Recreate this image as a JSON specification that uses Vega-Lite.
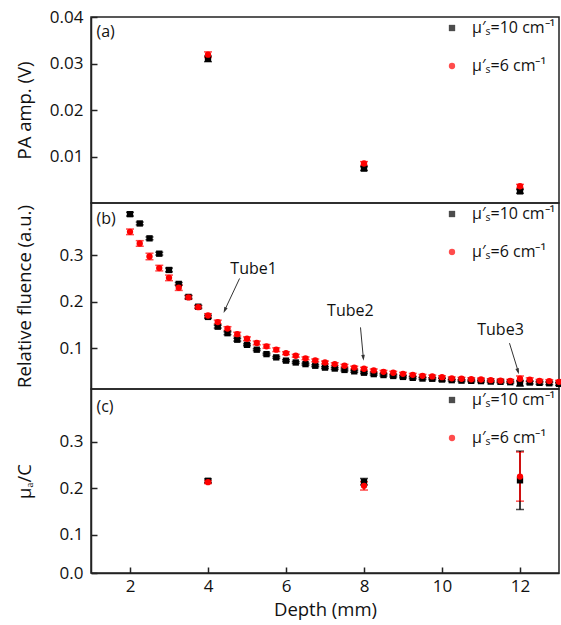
{
  "$schema": "https://vega.github.io/schema/vega-lite/v6.json",
  "padding": {"left": 14, "top": 7, "right": 0, "bottom": 0},
  "spacing": 0,
  "bounds": "flush",
  "config": {
    "font": "Open Sans",
    "view": {"stroke": "#222", "strokeWidth": 1.5},
    "axis": {"labelFont": "Open Sans", "labelFontSize": 17, "titleFont": "Open Sans", "titleFontSize": 18.5, "titleFontWeight": "normal", "labelColor": "#111", "titleColor": "#111", "grid": false, "domainColor": "#222", "domainWidth": 1.5, "tickColor": "#222", "tickWidth": 1.5, "tickSize": -6, "labelPadding": 14, "labelFlush": false},
    "legend": {"orient": "top-right", "offset": 3, "labelFont": "Open Sans", "labelFontSize": 16, "labelColor": "#111", "symbolSize": 40, "rowPadding": 22, "labelOffset": 12, "padding": 0, "symbolStrokeWidth": 0},
    "text": {"font": "Open Sans", "fontSize": 16, "color": "#111"}
  },
  "datasets": {
    "pa": [
      {"depth": 4, "series": "μ′ₛ=10 cm⁻¹", "value": 0.031, "err": 0.0006},
      {"depth": 8, "series": "μ′ₛ=10 cm⁻¹", "value": 0.0074, "err": 0.0004},
      {"depth": 12, "series": "μ′ₛ=10 cm⁻¹", "value": 0.0025, "err": 0.0004},
      {"depth": 4, "series": "μ′ₛ=6 cm⁻¹", "value": 0.0319, "err": 0.0006},
      {"depth": 8, "series": "μ′ₛ=6 cm⁻¹", "value": 0.0085, "err": 0.0004},
      {"depth": 12, "series": "μ′ₛ=6 cm⁻¹", "value": 0.0036, "err": 0.0004}
    ],
    "fluence": [
      {"depth": 2.0, "series": "μ′ₛ=10 cm⁻¹", "value": 0.388, "err": 0.004},
      {"depth": 2.25, "series": "μ′ₛ=10 cm⁻¹", "value": 0.368, "err": 0.003},
      {"depth": 2.5, "series": "μ′ₛ=10 cm⁻¹", "value": 0.336, "err": 0.003},
      {"depth": 2.75, "series": "μ′ₛ=10 cm⁻¹", "value": 0.303, "err": 0.003},
      {"depth": 3.0, "series": "μ′ₛ=10 cm⁻¹", "value": 0.268, "err": 0.004},
      {"depth": 3.25, "series": "μ′ₛ=10 cm⁻¹", "value": 0.238, "err": 0.003},
      {"depth": 3.5, "series": "μ′ₛ=10 cm⁻¹", "value": 0.21, "err": 0.003},
      {"depth": 3.75, "series": "μ′ₛ=10 cm⁻¹", "value": 0.189, "err": 0.003},
      {"depth": 4.0, "series": "μ′ₛ=10 cm⁻¹", "value": 0.167, "err": 0.003},
      {"depth": 4.25, "series": "μ′ₛ=10 cm⁻¹", "value": 0.146, "err": 0.003},
      {"depth": 4.5, "series": "μ′ₛ=10 cm⁻¹", "value": 0.132, "err": 0.003},
      {"depth": 4.75, "series": "μ′ₛ=10 cm⁻¹", "value": 0.118, "err": 0.003},
      {"depth": 5.0, "series": "μ′ₛ=10 cm⁻¹", "value": 0.107, "err": 0.002},
      {"depth": 5.25, "series": "μ′ₛ=10 cm⁻¹", "value": 0.0965, "err": 0.002},
      {"depth": 5.5, "series": "μ′ₛ=10 cm⁻¹", "value": 0.087, "err": 0.002},
      {"depth": 5.75, "series": "μ′ₛ=10 cm⁻¹", "value": 0.08, "err": 0.002},
      {"depth": 6.0, "series": "μ′ₛ=10 cm⁻¹", "value": 0.073, "err": 0.002},
      {"depth": 6.25, "series": "μ′ₛ=10 cm⁻¹", "value": 0.069, "err": 0.002},
      {"depth": 6.5, "series": "μ′ₛ=10 cm⁻¹", "value": 0.0655, "err": 0.002},
      {"depth": 6.75, "series": "μ′ₛ=10 cm⁻¹", "value": 0.062, "err": 0.002},
      {"depth": 7.0, "series": "μ′ₛ=10 cm⁻¹", "value": 0.058, "err": 0.002},
      {"depth": 7.25, "series": "μ′ₛ=10 cm⁻¹", "value": 0.056, "err": 0.002},
      {"depth": 7.5, "series": "μ′ₛ=10 cm⁻¹", "value": 0.053, "err": 0.002},
      {"depth": 7.75, "series": "μ′ₛ=10 cm⁻¹", "value": 0.05, "err": 0.002},
      {"depth": 8.0, "series": "μ′ₛ=10 cm⁻¹", "value": 0.047, "err": 0.002},
      {"depth": 8.25, "series": "μ′ₛ=10 cm⁻¹", "value": 0.044, "err": 0.002},
      {"depth": 8.5, "series": "μ′ₛ=10 cm⁻¹", "value": 0.042, "err": 0.002},
      {"depth": 8.75, "series": "μ′ₛ=10 cm⁻¹", "value": 0.04, "err": 0.002},
      {"depth": 9.0, "series": "μ′ₛ=10 cm⁻¹", "value": 0.038, "err": 0.002},
      {"depth": 9.25, "series": "μ′ₛ=10 cm⁻¹", "value": 0.036, "err": 0.002},
      {"depth": 9.5, "series": "μ′ₛ=10 cm⁻¹", "value": 0.0345, "err": 0.002},
      {"depth": 9.75, "series": "μ′ₛ=10 cm⁻¹", "value": 0.034, "err": 0.002},
      {"depth": 10.0, "series": "μ′ₛ=10 cm⁻¹", "value": 0.0324, "err": 0.003},
      {"depth": 10.25, "series": "μ′ₛ=10 cm⁻¹", "value": 0.031, "err": 0.002},
      {"depth": 10.5, "series": "μ′ₛ=10 cm⁻¹", "value": 0.03, "err": 0.002},
      {"depth": 10.75, "series": "μ′ₛ=10 cm⁻¹", "value": 0.0296, "err": 0.002},
      {"depth": 11.0, "series": "μ′ₛ=10 cm⁻¹", "value": 0.029, "err": 0.002},
      {"depth": 11.25, "series": "μ′ₛ=10 cm⁻¹", "value": 0.028, "err": 0.002},
      {"depth": 11.5, "series": "μ′ₛ=10 cm⁻¹", "value": 0.0275, "err": 0.002},
      {"depth": 11.75, "series": "μ′ₛ=10 cm⁻¹", "value": 0.0266, "err": 0.002},
      {"depth": 12.0, "series": "μ′ₛ=10 cm⁻¹", "value": 0.0244, "err": 0.006},
      {"depth": 12.25, "series": "μ′ₛ=10 cm⁻¹", "value": 0.026, "err": 0.003},
      {"depth": 12.5, "series": "μ′ₛ=10 cm⁻¹", "value": 0.0252, "err": 0.003},
      {"depth": 12.75, "series": "μ′ₛ=10 cm⁻¹", "value": 0.0244, "err": 0.003},
      {"depth": 13.0, "series": "μ′ₛ=10 cm⁻¹", "value": 0.023, "err": 0.003},
      {"depth": 2.0, "series": "μ′ₛ=6 cm⁻¹", "value": 0.35, "err": 0.006},
      {"depth": 2.25, "series": "μ′ₛ=6 cm⁻¹", "value": 0.325, "err": 0.006},
      {"depth": 2.5, "series": "μ′ₛ=6 cm⁻¹", "value": 0.297, "err": 0.007},
      {"depth": 2.75, "series": "μ′ₛ=6 cm⁻¹", "value": 0.272, "err": 0.006},
      {"depth": 3.0, "series": "μ′ₛ=6 cm⁻¹", "value": 0.251, "err": 0.006},
      {"depth": 3.25, "series": "μ′ₛ=6 cm⁻¹", "value": 0.23, "err": 0.006},
      {"depth": 3.5, "series": "μ′ₛ=6 cm⁻¹", "value": 0.209, "err": 0.004},
      {"depth": 3.75, "series": "μ′ₛ=6 cm⁻¹", "value": 0.188, "err": 0.003},
      {"depth": 4.0, "series": "μ′ₛ=6 cm⁻¹", "value": 0.17, "err": 0.004},
      {"depth": 4.25, "series": "μ′ₛ=6 cm⁻¹", "value": 0.156, "err": 0.004},
      {"depth": 4.5, "series": "μ′ₛ=6 cm⁻¹", "value": 0.142, "err": 0.004},
      {"depth": 4.75, "series": "μ′ₛ=6 cm⁻¹", "value": 0.13, "err": 0.004},
      {"depth": 5.0, "series": "μ′ₛ=6 cm⁻¹", "value": 0.12, "err": 0.004},
      {"depth": 5.25, "series": "μ′ₛ=6 cm⁻¹", "value": 0.111, "err": 0.004},
      {"depth": 5.5, "series": "μ′ₛ=6 cm⁻¹", "value": 0.1037, "err": 0.004},
      {"depth": 5.75, "series": "μ′ₛ=6 cm⁻¹", "value": 0.0965, "err": 0.004},
      {"depth": 6.0, "series": "μ′ₛ=6 cm⁻¹", "value": 0.089, "err": 0.003},
      {"depth": 6.25, "series": "μ′ₛ=6 cm⁻¹", "value": 0.0835, "err": 0.003},
      {"depth": 6.5, "series": "μ′ₛ=6 cm⁻¹", "value": 0.078, "err": 0.003},
      {"depth": 6.75, "series": "μ′ₛ=6 cm⁻¹", "value": 0.0735, "err": 0.003},
      {"depth": 7.0, "series": "μ′ₛ=6 cm⁻¹", "value": 0.069, "err": 0.003},
      {"depth": 7.25, "series": "μ′ₛ=6 cm⁻¹", "value": 0.0655, "err": 0.003},
      {"depth": 7.5, "series": "μ′ₛ=6 cm⁻¹", "value": 0.062, "err": 0.003},
      {"depth": 7.75, "series": "μ′ₛ=6 cm⁻¹", "value": 0.058, "err": 0.003},
      {"depth": 8.0, "series": "μ′ₛ=6 cm⁻¹", "value": 0.0555, "err": 0.003},
      {"depth": 8.25, "series": "μ′ₛ=6 cm⁻¹", "value": 0.052, "err": 0.003},
      {"depth": 8.5, "series": "μ′ₛ=6 cm⁻¹", "value": 0.049, "err": 0.003},
      {"depth": 8.75, "series": "μ′ₛ=6 cm⁻¹", "value": 0.047, "err": 0.003},
      {"depth": 9.0, "series": "μ′ₛ=6 cm⁻¹", "value": 0.0447, "err": 0.003},
      {"depth": 9.25, "series": "μ′ₛ=6 cm⁻¹", "value": 0.0425, "err": 0.003},
      {"depth": 9.5, "series": "μ′ₛ=6 cm⁻¹", "value": 0.0404, "err": 0.003},
      {"depth": 9.75, "series": "μ′ₛ=6 cm⁻¹", "value": 0.039, "err": 0.003},
      {"depth": 10.0, "series": "μ′ₛ=6 cm⁻¹", "value": 0.0374, "err": 0.003},
      {"depth": 10.25, "series": "μ′ₛ=6 cm⁻¹", "value": 0.035, "err": 0.003},
      {"depth": 10.5, "series": "μ′ₛ=6 cm⁻¹", "value": 0.034, "err": 0.003},
      {"depth": 10.75, "series": "μ′ₛ=6 cm⁻¹", "value": 0.033, "err": 0.003},
      {"depth": 11.0, "series": "μ′ₛ=6 cm⁻¹", "value": 0.0324, "err": 0.003},
      {"depth": 11.25, "series": "μ′ₛ=6 cm⁻¹", "value": 0.031, "err": 0.003},
      {"depth": 11.5, "series": "μ′ₛ=6 cm⁻¹", "value": 0.03, "err": 0.003},
      {"depth": 11.75, "series": "μ′ₛ=6 cm⁻¹", "value": 0.0296, "err": 0.003},
      {"depth": 12.0, "series": "μ′ₛ=6 cm⁻¹", "value": 0.034, "err": 0.006},
      {"depth": 12.25, "series": "μ′ₛ=6 cm⁻¹", "value": 0.032, "err": 0.004},
      {"depth": 12.5, "series": "μ′ₛ=6 cm⁻¹", "value": 0.0296, "err": 0.003},
      {"depth": 12.75, "series": "μ′ₛ=6 cm⁻¹", "value": 0.029, "err": 0.003},
      {"depth": 13.0, "series": "μ′ₛ=6 cm⁻¹", "value": 0.0275, "err": 0.003}
    ],
    "ratio": [
      {"depth": 4, "series": "μ′ₛ=10 cm⁻¹", "value": 0.216, "err": 0.004},
      {"depth": 8, "series": "μ′ₛ=10 cm⁻¹", "value": 0.214, "err": 0.007},
      {"depth": 12, "series": "μ′ₛ=10 cm⁻¹", "value": 0.217, "err": 0.063},
      {"depth": 4, "series": "μ′ₛ=6 cm⁻¹", "value": 0.213, "err": 0.003},
      {"depth": 8, "series": "μ′ₛ=6 cm⁻¹", "value": 0.205, "err": 0.009},
      {"depth": 12, "series": "μ′ₛ=6 cm⁻¹", "value": 0.225, "err": 0.053}
    ],
    "one": [{"k": 1}]
  },
  "vconcat": [
    {
      "width": 468,
      "height": 186,
      "layer": [
        {
          "data": {"name": "pa"},
          "mark": {"type": "errorbar", "ticks": {"size": 8}, "thickness": 1.5},
          "encoding": {
            "x": {"field": "depth", "type": "quantitative", "scale": {"domain": [1, 13], "nice": false, "zero": false}, "axis": null},
            "y": {"field": "value", "type": "quantitative", "scale": {"domain": [0, 0.04], "nice": false, "zero": false}, "axis": {"title": "PA amp. (V)", "values": [0.01, 0.02, 0.03, 0.04], "format": ".2f", "titleX": -57}},
            "yError": {"field": "err"},
            "color": {"field": "series", "type": "nominal", "scale": {"domain": ["μ′ₛ=10 cm⁻¹", "μ′ₛ=6 cm⁻¹"], "range": ["#000000", "#ff0000"]}, "title": null}
          }
        },
        {
          "data": {"name": "pa"},
          "mark": {"type": "point", "filled": true, "size": 40, "opacity": 1},
          "encoding": {
            "x": {"field": "depth", "type": "quantitative"},
            "y": {"field": "value", "type": "quantitative"},
            "color": {"field": "series", "type": "nominal", "title": null},
            "shape": {"field": "series", "type": "nominal", "scale": {"domain": ["μ′ₛ=10 cm⁻¹", "μ′ₛ=6 cm⁻¹"], "range": ["square", "circle"]}, "title": null}
          }
        },
        {
          "data": {"name": "one"},
          "mark": {"type": "text", "align": "left", "baseline": "middle", "text": "(a)"},
          "encoding": {"x": {"datum": 1.14}, "y": {"datum": 0.0368}}
        }
      ]
    },
    {
      "width": 468,
      "height": 186,
      "layer": [
        {
          "data": {"name": "fluence"},
          "mark": {"type": "errorbar", "ticks": {"size": 8}, "thickness": 1.5},
          "encoding": {
            "x": {"field": "depth", "type": "quantitative", "scale": {"domain": [1, 13], "nice": false, "zero": false}, "axis": null},
            "y": {"field": "value", "type": "quantitative", "scale": {"domain": [0.012, 0.412], "nice": false, "zero": false}, "axis": {"title": "Relative fluence (a.u.)", "values": [0.1, 0.2, 0.3], "format": ".1f", "titleX": -57}},
            "yError": {"field": "err"},
            "color": {"field": "series", "type": "nominal", "scale": {"domain": ["μ′ₛ=10 cm⁻¹", "μ′ₛ=6 cm⁻¹"], "range": ["#000000", "#ff0000"]}, "title": null}
          }
        },
        {
          "data": {"name": "fluence"},
          "mark": {"type": "point", "filled": true, "size": 40, "opacity": 1},
          "encoding": {
            "x": {"field": "depth", "type": "quantitative"},
            "y": {"field": "value", "type": "quantitative"},
            "color": {"field": "series", "type": "nominal", "title": null},
            "shape": {"field": "series", "type": "nominal", "scale": {"domain": ["μ′ₛ=10 cm⁻¹", "μ′ₛ=6 cm⁻¹"], "range": ["square", "circle"]}, "title": null}
          }
        },
        {
          "data": {"name": "one"},
          "mark": {"type": "text", "align": "left", "baseline": "middle", "text": "(b)"},
          "encoding": {"x": {"datum": 1.14}, "y": {"datum": 0.378}}
        },
        {
          "data": {"name": "one"},
          "mark": {"type": "text", "align": "center", "baseline": "middle", "text": "Tube1"},
          "encoding": {"x": {"datum": 5.17}, "y": {"datum": 0.27}}
        },
        {
          "data": {"name": "one"},
          "mark": {"type": "text", "align": "center", "baseline": "middle", "text": "Tube2"},
          "encoding": {"x": {"datum": 7.65}, "y": {"datum": 0.179}}
        },
        {
          "data": {"name": "one"},
          "mark": {"type": "text", "align": "center", "baseline": "middle", "text": "Tube3"},
          "encoding": {"x": {"datum": 11.5}, "y": {"datum": 0.1395}}
        },
        {
          "data": {"name": "one"},
          "mark": {"type": "rule", "color": "#333", "strokeWidth": 1},
          "encoding": {"x": {"datum": 4.81}, "y": {"datum": 0.2497}, "x2": {"datum": 4.42}, "y2": {"datum": 0.18}}
        },
        {
          "data": {"name": "one"},
          "mark": {"type": "rule", "color": "#333", "strokeWidth": 1},
          "encoding": {"x": {"datum": 7.91}, "y": {"datum": 0.1445}, "x2": {"datum": 7.985}, "y2": {"datum": 0.077}}
        },
        {
          "data": {"name": "one"},
          "mark": {"type": "rule", "color": "#333", "strokeWidth": 1},
          "encoding": {"x": {"datum": 11.73}, "y": {"datum": 0.1106}, "x2": {"datum": 11.96}, "y2": {"datum": 0.048}}
        },
        {
          "data": {"name": "one"},
          "mark": {"type": "point", "shape": "M0,0L-0.9,-3L0.9,-3Z", "filled": true, "size": 16, "color": "#333", "opacity": 1, "angle": 23.2},
          "encoding": {"x": {"datum": 4.40}, "y": {"datum": 0.1754}}
        },
        {
          "data": {"name": "one"},
          "mark": {"type": "point", "shape": "M0,0L-0.9,-3L0.9,-3Z", "filled": true, "size": 16, "color": "#333", "opacity": 1, "angle": 354.3},
          "encoding": {"x": {"datum": 7.99}, "y": {"datum": 0.0726}}
        },
        {
          "data": {"name": "one"},
          "mark": {"type": "point", "shape": "M0,0L-0.9,-3L0.9,-3Z", "filled": true, "size": 16, "color": "#333", "opacity": 1, "angle": 343.3},
          "encoding": {"x": {"datum": 11.97}, "y": {"datum": 0.0439}}
        }
      ]
    },
    {
      "width": 468,
      "height": 184,
      "layer": [
        {
          "data": {"name": "ratio"},
          "mark": {"type": "errorbar", "ticks": {"size": 8}, "thickness": 1.5},
          "encoding": {
            "x": {"field": "depth", "type": "quantitative", "scale": {"domain": [1, 13], "nice": false, "zero": false}, "axis": {"title": "Depth (mm)", "values": [2, 4, 6, 8, 10, 12], "labelPadding": 11, "titlePadding": 6}},
            "y": {"field": "value", "type": "quantitative", "scale": {"domain": [0.017, 0.414], "nice": false, "zero": false}, "axis": {"title": "μₐ/C", "values": [0.017, 0.1, 0.2, 0.3], "labelExpr": "datum.value < 0.05 ? '0.0' : format(datum.value, '.1f')", "titleX": -57}},
            "yError": {"field": "err"},
            "color": {"field": "series", "type": "nominal", "scale": {"domain": ["μ′ₛ=10 cm⁻¹", "μ′ₛ=6 cm⁻¹"], "range": ["#000000", "#ff0000"]}, "title": null}
          }
        },
        {
          "data": {"name": "ratio"},
          "mark": {"type": "point", "filled": true, "size": 40, "opacity": 1},
          "encoding": {
            "x": {"field": "depth", "type": "quantitative"},
            "y": {"field": "value", "type": "quantitative"},
            "color": {"field": "series", "type": "nominal", "title": null},
            "shape": {"field": "series", "type": "nominal", "scale": {"domain": ["μ′ₛ=10 cm⁻¹", "μ′ₛ=6 cm⁻¹"], "range": ["square", "circle"]}, "title": null}
          }
        },
        {
          "data": {"name": "one"},
          "mark": {"type": "text", "align": "left", "baseline": "middle", "text": "(c)"},
          "encoding": {"x": {"datum": 1.14}, "y": {"datum": 0.376}}
        }
      ]
    }
  ],
  "resolve": {
    "scale": {"color": "independent", "shape": "independent"},
    "legend": {"color": "independent", "shape": "independent"}
  }
}
